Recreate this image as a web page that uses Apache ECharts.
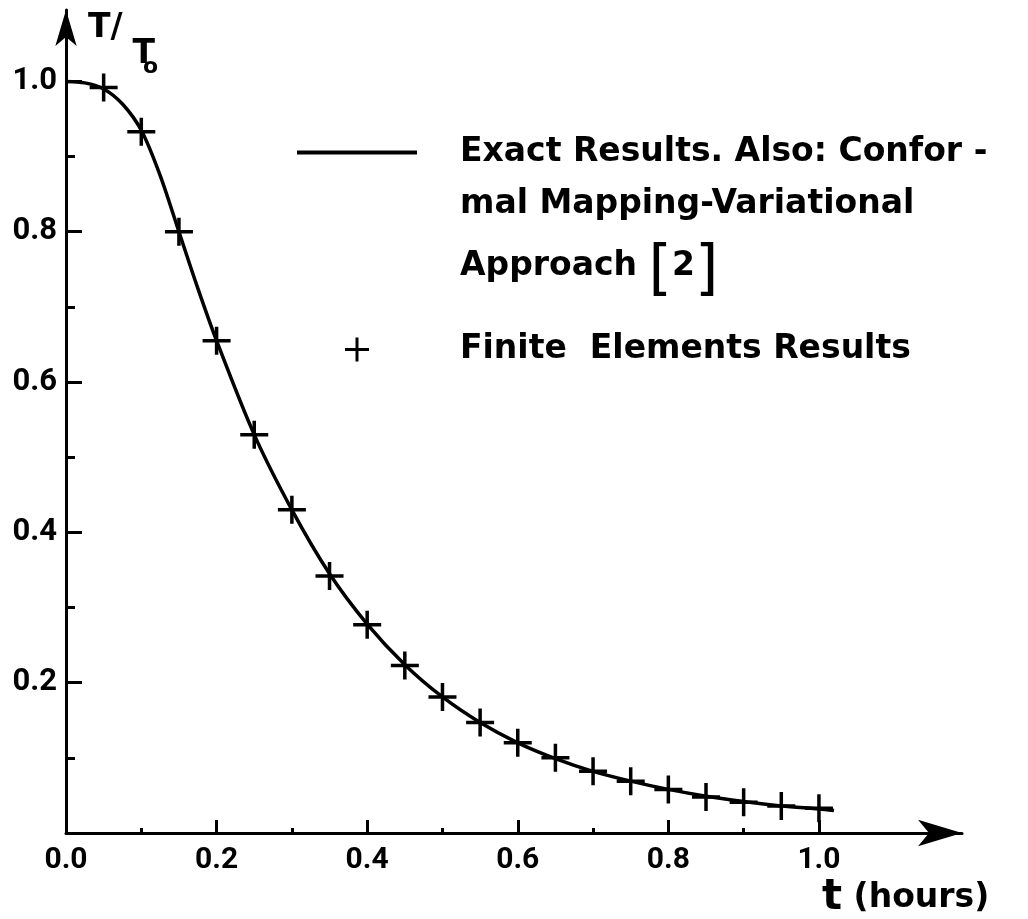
<!DOCTYPE html>
<html>
<head>
<meta charset="utf-8">
<script src="https://cdn.jsdelivr.net/npm/echarts@6/dist/echarts.min.js"></script>
<style>
  html, body { margin: 0; padding: 0; background: #fff; }
  #chart { width: 1028px; height: 919px; }
</style>
</head>
<body>
<div id="chart"></div>
<script>
// exact curve
const exactT = [0, 0.025, 0.05, 0.075, 0.1, 0.125, 0.15, 0.175, 0.2, 0.25, 0.3, 0.35, 0.4, 0.45, 0.5, 0.55, 0.6, 0.65, 0.7, 0.75, 0.8, 0.85, 0.9, 0.95, 1.0, 1.02];
const exactVal = [1.0, 0.998, 0.99, 0.97, 0.935, 0.875, 0.80, 0.725, 0.655, 0.53, 0.43, 0.345, 0.278, 0.224, 0.181, 0.147, 0.12, 0.099, 0.082, 0.069, 0.058, 0.049, 0.042, 0.036, 0.032, 0.030];

// finite element points
const feT = [0.05, 0.1, 0.15, 0.2, 0.25, 0.3, 0.35, 0.4, 0.45, 0.5, 0.55, 0.6, 0.65, 0.7, 0.75, 0.8, 0.85, 0.9, 0.95, 1.0];
const feVal = [0.992, 0.933, 0.80, 0.655, 0.53, 0.43, 0.342, 0.277, 0.223, 0.181, 0.147, 0.120, 0.100, 0.082, 0.069, 0.058, 0.048, 0.041, 0.036, 0.033];

// ticks
const xMajor = [0.2, 0.4, 0.6, 0.8, 1.0];
const xMinor = [0.1, 0.3, 0.5, 0.7, 0.9];
const xLabels = [0, 0.2, 0.4, 0.6, 0.8, 1.0];
const yMajor = [0.2, 0.4, 0.6, 0.8, 1.0];
const yMinor = [0.1, 0.3, 0.5, 0.7, 0.9];
const yLabels = [0.2, 0.4, 0.6, 0.8, 1.0];

const exactName = 'Exact Results. Also: Confor -';
const feName = 'Finite  Elements Results';

const plus = 'path://M0,12.25 L28,12.25 L28,15.75 L0,15.75 Z M12.25,0 L15.75,0 L15.75,28 L12.25,28 Z';
const labelFont = 'Roboto, "DejaVu Sans", sans-serif';
const textFont = '"DejaVu Sans", sans-serif';

const chart = echarts.init(document.getElementById('chart'));

chart.setOption({
    backgroundColor: '#fff',
    animation: false,
    grid: {left: 66, right: 66, top: 10, bottom: 82, containLabel: false},
    legend: {
        orient: 'vertical',
        left: 295,
        top: 136,
        padding: 0,
        itemWidth: 120,
        itemHeight: 24,
        itemGap: 164,
        selectedMode: false,
        lineStyle: {width: 4},
        textStyle: {fontFamily: textFont, fontSize: 33, fontWeight: 'bold', color: '#000', padding: [0, 0, 0, 38]},
        data: [
            {name: exactName, itemStyle: {opacity: 0}},
            {name: feName, icon: plus}
        ]
    },
    graphic: [
        {type: 'text', left: 460, top: 188, style: {text: 'mal Mapping-Variational', fontFamily: textFont, fontSize: 33, fontWeight: 'bold', fill: '#000'}},
        {
            type: 'text', left: 460, top: 242,
            style: {
                text: 'Approach {b|[}2{b|]}',
                fontFamily: textFont, fontSize: 33, fontWeight: 'bold', fill: '#000',
                rich: {b: {fontFamily: textFont, fontSize: 60, fontWeight: 'normal', fill: '#000', padding: [12, 0, 0, 0]}}
            }
        }
    ],
    xAxis: [
        {
            type: 'value', min: 0, max: 1.19, position: 'bottom',
            splitLine: {show: false},
            axisLine: {lineStyle: {color: '#000', width: 3}, symbol: ['none', 'arrow'], symbolSize: [20, 44]},
            axisTick: {inside: true, length: 13, lineStyle: {color: '#000', width: 3}, customValues: xMajor},
            axisLabel: {
                customValues: xLabels, margin: 12, color: '#000',
                fontFamily: labelFont, fontSize: 30, fontWeight: 'bold',
                formatter: v => v.toFixed(1)
            },
            name: '{t|t} (hours)',
            nameLocation: 'end',
            nameGap: -140,
            nameTextStyle: {
                color: '#000', fontFamily: textFont, fontSize: 33, fontWeight: 'bold', align: 'left',
                verticalAlign: 'top', padding: [44, 0, 0, 0],
                rich: {t: {fontFamily: textFont, fontSize: 42, fontWeight: 'bold', color: '#000'}}
            }
        },
        {
            type: 'value', min: 0, max: 1.19, position: 'bottom',
            splitLine: {show: false},
            axisLine: {show: false},
            axisTick: {inside: true, length: 5, lineStyle: {color: '#000', width: 3}, customValues: xMinor},
            axisLabel: {show: false}
        }
    ],
    yAxis: [
        {
            type: 'value', min: 0, max: 1.095, position: 'left',
            splitLine: {show: false},
            axisLine: {lineStyle: {color: '#000', width: 3}, symbol: ['none', 'arrow'], symbolSize: [16, 36]},
            axisTick: {inside: true, length: 16, lineStyle: {color: '#000', width: 3}, customValues: yMajor},
            axisLabel: {
                customValues: yLabels, margin: 9, color: '#000',
                fontFamily: labelFont, fontSize: 31, fontWeight: 'bold',
                formatter: v => v.toFixed(1)
            },
            name: '{a|T/}{b|T}{c|o}',
            nameLocation: 'end',
            nameGap: -68,
            nameTextStyle: {
                align: 'left', padding: [0, 0, 0, 22],
                rich: {
                    a: {fontFamily: textFont, fontSize: 33, fontWeight: 'bold', color: '#000', verticalAlign: 'bottom', padding: [0, 0, 33, 0]},
                    b: {fontFamily: textFont, fontSize: 33, fontWeight: 'bold', color: '#000', verticalAlign: 'bottom', padding: [0, 0, 7, 10]},
                    c: {fontFamily: textFont, fontSize: 22, fontWeight: 'bold', color: '#000', verticalAlign: 'bottom', padding: [0, 0, 0, -12]}
                }
            }
        },
        {
            type: 'value', min: 0, max: 1.095, position: 'left',
            splitLine: {show: false},
            axisLine: {show: false},
            axisTick: {inside: true, length: 9, lineStyle: {color: '#000', width: 3}, customValues: yMinor},
            axisLabel: {show: false}
        }
    ],
    series: [
        {
            name: exactName,
            type: 'line',
            smooth: 0.3,
            symbol: 'none',
            lineStyle: {color: '#000', width: 3.5},
            itemStyle: {color: '#000'},
            data: exactT.map((t, i) => [t, exactVal[i]])
        },
        {
            name: feName,
            type: 'scatter',
            symbol: plus,
            symbolSize: 28,
            symbolKeepAspect: true,
            itemStyle: {color: '#000', opacity: 1},
            data: feT.map((t, i) => [t, feVal[i]])
        }
    ]
});
</script>
</body>
</html>
